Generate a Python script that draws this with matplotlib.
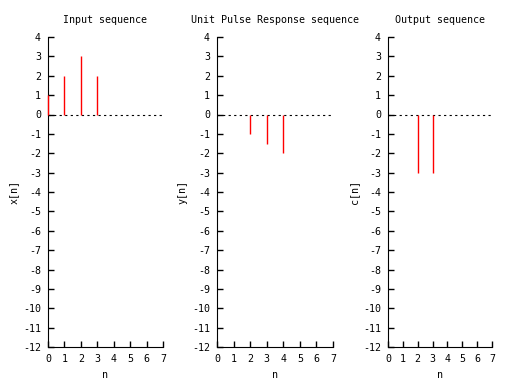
import numpy as np
import matplotlib.pyplot as plt

plt.rcParams["font.family"] = "DejaVu Sans Mono"
plt.rcParams["font.size"] = 7.2
plt.rcParams["axes.unicode_minus"] = False

# data
n_x = [0, 1, 2, 3]
x_vals = [1, 2, 3, 2]
n_y = [2, 3, 4]
y_vals = [-1, -1.5, -2]
n_c = [2, 3]
c_vals = [-3, -3]

panels = [
    ("Input sequence", "x[n]", n_x, x_vals),
    ("Unit Pulse Response sequence", "y[n]", n_y, y_vals),
    ("Output sequence", "c[n]", n_c, c_vals),
]

# axes positions in pixels (left, right)
W, H = 510, 382
cols = [(48, 163), (217, 333), (388, 492)]
top, bottom = 37, 347

fig = plt.figure(figsize=(W / 100, H / 100), dpi=100)

for (title, ylabel, n, v), (l, r) in zip(panels, cols):
    ax = fig.add_axes([l / W, 1 - bottom / H, (r - l) / W, (bottom - top) / H])
    ax.plot([0, 7], [0, 0], color="black", linestyle=(0, (2, 3)), linewidth=0.8)
    ax.vlines(n, 0, v, color="red", linewidth=1.0, zorder=5, clip_on=False)
    ax.set_xlim(0, 7)
    ax.set_ylim(-12, 4)
    ax.set_xticks(range(0, 8))
    ax.set_yticks(range(-12, 5))
    ax.spines["top"].set_visible(False)
    ax.spines["right"].set_visible(False)
    ax.tick_params(direction="in", length=4, width=1, pad=5)
    ax.set_title(title, fontsize=7.2, pad=10)
    ax.set_xlabel("n", labelpad=4)
    ax.set_ylabel(ylabel, labelpad=3)

fig.savefig("out.png", dpi=100)
